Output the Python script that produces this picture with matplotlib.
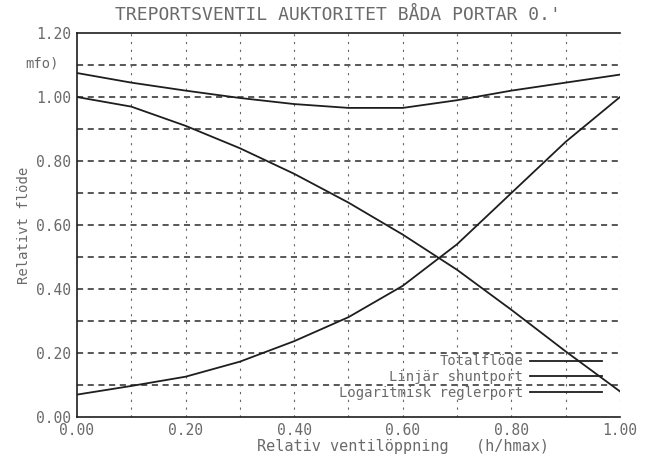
import matplotlib
matplotlib.use("Agg")
import matplotlib.pyplot as plt
import numpy as np

# valve opening h/hmax
opening = [0.0, 0.1, 0.2, 0.3, 0.4, 0.5, 0.6, 0.7, 0.8, 0.9, 1.0]
# flows
total_flow = [1.075, 1.045, 1.02, 0.997, 0.978, 0.966, 0.966, 0.99, 1.02, 1.045, 1.07]
linear_shunt = [1.0, 0.97, 0.91, 0.84, 0.76, 0.67, 0.57, 0.46, 0.335, 0.205, 0.08]
log_control = [0.07, 0.097, 0.126, 0.173, 0.237, 0.312, 0.41, 0.54, 0.70, 0.86, 1.0]

series_names = ["Totalflöde", "Linjär shuntport", "Logaritmisk reglerport"]
x_ticks = [0.0, 0.2, 0.4, 0.6, 0.8, 1.0]
y_ticks = [0.0, 0.2, 0.4, 0.6, 0.8, 1.0, 1.2]

mono = "DejaVu Sans Mono"
txt = "#6a6a6a"
ink = "#1e1e1e"

fig = plt.figure(figsize=(6.49, 4.58), dpi=100)
ax = fig.add_axes([0.1186, 0.0895, 0.8367, 0.8384])

for vals, name in zip([total_flow, linear_shunt, log_control], series_names):
    ax.plot(opening, vals, color=ink, lw=1.3, label=name)

ax.set_xlim(0, 1.0)
ax.set_ylim(0, 1.2)

# plotter style grid
for gy in np.arange(0.1, 1.2, 0.1):
    ax.axhline(gy, color="#2a2a2a", lw=1.1, ls=(0, (4, 3)), zorder=0)
for gx in np.arange(0.1, 1.01, 0.1):
    ax.axvline(gx, color="#666666", lw=0.8, ls=(0, (2, 5)), zorder=0)

for s in ["left", "bottom", "top"]:
    ax.spines[s].set_color(ink)
    ax.spines[s].set_linewidth(1.2)
ax.spines["right"].set_visible(False)

ax.set_xticks(x_ticks)
ax.set_xticklabels([f"{v:.2f}" for v in x_ticks])
ax.set_yticks(y_ticks)
ax.set_yticklabels([f"{v:.2f}" for v in y_ticks])
ax.tick_params(length=0, pad=4, colors=txt, labelsize=10.5)
for lab in ax.get_xticklabels() + ax.get_yticklabels():
    lab.set_family(mono)

ax.set_xlabel("Relativ ventilöppning   (h/hmax)", family=mono, color=txt,
              fontsize=11, labelpad=1, x=0.6)
ax.set_ylabel("Relativt flöde", family=mono, color=txt, fontsize=10, labelpad=4)
fig.text(0.09, 0.862, "mfo)", family=mono, color=txt, fontsize=10, ha="right", va="center")

fig.text(0.52, 0.968, "TREPORTSVENTIL AUKTORITET BÅDA PORTAR 0.'", family=mono,
         color=txt, fontsize=13, ha="center", va="center")

leg = ax.legend(loc="lower right", bbox_to_anchor=(0.967, 0.045), frameon=False,
                markerfirst=False, borderaxespad=0, borderpad=0, handlelength=5.2,
                handletextpad=0.5, labelspacing=0.12,
                prop={"family": mono, "size": 10})
for t in leg.get_texts():
    t.set_color(txt)

fig.savefig("out.png", dpi=100)
